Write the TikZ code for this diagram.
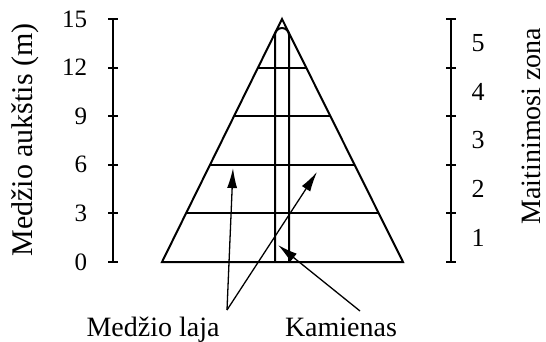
\documentclass[tikz,border=0pt]{standalone}
\usepackage{fontspec}
\setmainfont{Liberation Serif}
\usetikzlibrary{calc,arrows.meta}

\begin{document}
\begin{tikzpicture}[x=0.5pt, y=-0.5pt, line width=1pt, >={Latex[length=10pt, width=5pt]},
  lbl/.style={font=\fontsize{14}{16}\selectfont, inner sep=0pt},
  num/.style={font=\fontsize{12.5}{14}\selectfont, inner sep=0pt},
  ptr/.style={->, line width=0.65pt}]
  \useasboundingbox (0,0) rectangle (546,342);
  % height axis
  \draw (113,19) -- (113,262);
  \foreach \h in {0,3,...,15}{
    \draw (108,262-16.2*\h) -- (118,262-16.2*\h);
    \node[num, anchor=east] (h\h) at (88,262-16.2*\h) {\h};
  }
  \node[lbl, font=\fontsize{15}{17}\selectfont, rotate=90] (hlabel) at (25,140) {Medžio aukštis (m)};
  % zone axis
  \draw (451,19) -- (451,262);
  \foreach \h in {0,3,...,15}
    \draw (446,262-16.2*\h) -- (456,262-16.2*\h);
  \foreach \z in {1,...,5}
    \node[num, font=\fontsize{13}{15}\selectfont] (z\z) at (478,262-16.2*3*\z+24.3) {\z};
  \node[lbl, rotate=90] (zlabel) at (531,126) {Maitinimosi zona};
  % tree
  \coordinate (top) at (282,19);
  \coordinate (bl) at (162,262);
  \coordinate (br) at (403,262);
  \draw (bl) -- (top) -- (br) -- cycle;
  \foreach \h in {3,6,9,12}
    \draw ($(bl)!\h/15!(top)$) -- ($(br)!\h/15!(top)$);
  \draw (275,262) -- (275,35) arc (180:360:7) -- (289,262);
  % labels
  \node[lbl, anchor=base] (laja) at (153,336) {Medžio laja};
  \node[lbl, anchor=base] (kamienas) at (341,336) {Kamienas};
  \coordinate (lajatail) at (227,310);
  \coordinate (kamtail) at (360,311);
  \coordinate (crownL) at (233,168);
  \coordinate (crownR) at (317,172);
  \coordinate (stem) at (278,245);
  \draw[ptr] (lajatail) -- (crownL);
  \draw[ptr] (lajatail) -- (crownR);
  \draw[ptr] (kamtail) -- (stem);
\end{tikzpicture}
\end{document}
